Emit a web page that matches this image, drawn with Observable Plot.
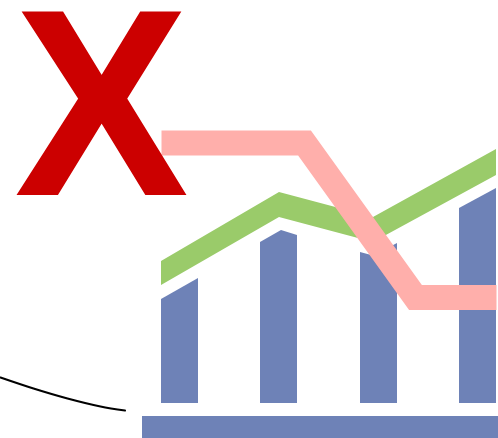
<!DOCTYPE html>
<html><head><meta charset="utf-8">
<script src="https://cdn.jsdelivr.net/npm/d3@7"></script>
<script src="https://cdn.jsdelivr.net/npm/@observablehq/plot@0.6"></script>
<style>html,body{margin:0;padding:0;background:#fff}svg{display:block}</style>
</head><body><div id="chart"></div>
<script>
const barColor = "#6e82b7", greenColor = "#9acb6a", pinkColor = "#ffafab", redColor = "#cc0000";
const bar1 = [[161,299],[198,278]];
const bar2 = [[260,242],[281,230],[297,235]];
const bar3 = [[360,252],[373,255.5],[397,243]];
const bar4 = [[459,208],[496,188]];
const barBottom = 403;
const greenX = [161,279,373,496];
const greenTop = [261,192,217,149];
const greenBottom = [285,217,242,175];
const pinkX = [161,304,415,496];
const pinkY = [142.5,142.5,297,297];
const baseX = [142,498];
const baseTop = 416, baseBottom = 438;
const curveX = [0,33,67,100,124.5];
const curveY = [377,388,398,406,410];
const markLabel = ["X"];
const markX = 101.5, markY = 194, markStretch = 1.03;

const bars = [bar1,bar2,bar3,bar4];
const chart = Plot.plot({
  width: 498, height: 438, margin: 0,
  x: {domain:[0,498], range:[0,498], axis:null},
  y: {domain:[0,438], range:[0,438], axis:null},
  style: {background:"#fff"},
  marks: [
    ...bars.map(b => Plot.areaY(b, {x:d=>d[0], y1:()=>barBottom, y2:d=>d[1], fill:barColor})),
    Plot.areaY(baseX, {x:d=>d, y1:()=>baseTop, y2:()=>baseBottom, fill:barColor}),
    Plot.areaY(greenX.map((x,i)=>({x,t:greenTop[i],b:greenBottom[i]})), {x:"x", y1:"b", y2:"t", fill:greenColor}),
    Plot.line(pinkX.map((x,i)=>({x,y:pinkY[i]})), {x:"x", y:"y", stroke:pinkColor, strokeWidth:25, strokeLinejoin:"miter", strokeMiterlimit:4, strokeLinecap:"butt"}),
    Plot.line(curveX.map((x,i)=>({x,y:curveY[i]})), {x:"x", y:"y", stroke:"#000", strokeWidth:2, curve:"catmull-rom"}),
    Plot.text(markLabel, {x:()=>markX, y:()=>markY, text:d=>d, fill:redColor, stroke:redColor, strokeWidth:2, strokeLinejoin:"miter", strokeMiterlimit:4, fontSize:256, fontWeight:"bold", fontFamily:"Liberation Sans", textAnchor:"middle", lineAnchor:"bottom"})
  ]
});
const label = chart.querySelector('g[aria-label="text"]');
if (label) label.setAttribute("transform", `translate(0,${markY}) scale(1,${markStretch}) translate(0,${-markY})`);
document.getElementById("chart").append(chart);
</script></body></html>
